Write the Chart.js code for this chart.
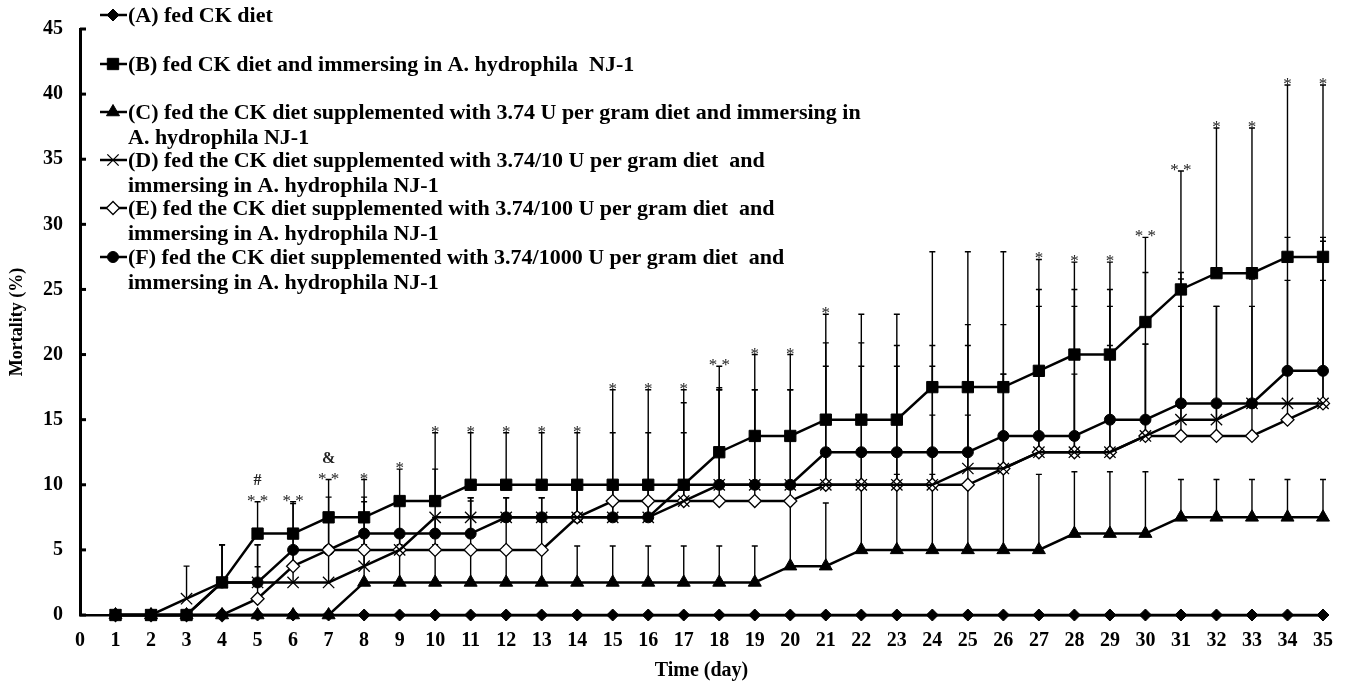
<!DOCTYPE html>
<html lang="en">
<head>
<meta charset="utf-8">
<title>Mortality (%)</title>
<script src="https://cdn.jsdelivr.net/npm/chart.js@4.4.0/dist/chart.umd.min.js"></script>
<style>
    body { margin: 0; background: #fff; }
    #wrap { width: 1347px; height: 686px; }
</style>
</head>
<body>

<div id="wrap"><canvas id="mortChart" width="1347" height="686"></canvas></div>

<script>
    // days of the trial
    var days = [1,2,3,4,5,6,7,8,9,10,11,12,13,14,15,16,17,18,19,20,21,22,23,24,25,26,27,28,29,30,31,32,33,34,35];

    // mortality (%) per group
    var mortA = [0,0,0,0,0,0,0,0,0,0,0,0,0,0,0,0,0,0,0,0,0,0,0,0,0,0,0,0,0,0,0,0,0,0,0];
    var mortB = [0,0,0,2.5,6.25,6.25,7.5,7.5,8.75,8.75,10,10,10,10,10,10,10,12.5,13.75,13.75,15,15,15,17.5,17.5,17.5,18.75,20,20,22.5,25,26.25,26.25,27.5,27.5];
    var mortC = [0,0,0,0,0,0,0,2.5,2.5,2.5,2.5,2.5,2.5,2.5,2.5,2.5,2.5,2.5,2.5,3.75,3.75,5,5,5,5,5,5,6.25,6.25,6.25,7.5,7.5,7.5,7.5,7.5];
    var mortD = [0,0,1.25,2.5,2.5,2.5,2.5,3.75,5,7.5,7.5,7.5,7.5,7.5,7.5,7.5,8.75,10,10,10,10,10,10,10,11.25,11.25,12.5,12.5,12.5,13.75,15,15,16.25,16.25,16.25];
    var mortE = [0,0,0,0,1.25,3.75,5,5,5,5,5,5,5,7.5,8.75,8.75,8.75,8.75,8.75,8.75,10,10,10,10,10,11.25,12.5,12.5,12.5,13.75,13.75,13.75,13.75,15,16.25];
    var mortF = [0,0,0,2.5,2.5,5,5,6.25,6.25,6.25,6.25,7.5,7.5,7.5,7.5,7.5,10,10,10,10,12.5,12.5,12.5,12.5,12.5,13.75,13.75,13.75,15,15,16.25,16.25,16.25,18.75,18.75];

    // standard deviations (upper bars only)
    var sdB = [0,0,0,2.9,2.45,2.45,2.9,2.9,2.45,5.25,4,4,4,4,7.3,7.3,7.3,6.6,6.25,6.25,8.1,8.1,8.1,10.4,10.4,10.4,8.55,7.1,7.1,6.5,9.1,11.15,11.15,13.2,13.2];
    var sdC = [0,0,0,0,0,0,0,2.9,2.9,2.9,2.8,2.8,2.8,2.8,2.8,2.8,2.8,2.8,2.8,5,4.85,5,5.8,5.8,5,6.25,5.8,4.75,4.75,4.75,2.9,2.9,2.9,2.9,2.9];
    var sdD = [0,0,2.5,2.9,2.9,2.5,2.5,2.5,1.25,3.7,1.5,1.5,1.5,2.5,2.5,2.5,5.25,7.45,7.3,7.3,9.1,9.1,9.1,9.1,11.05,7.25,11.2,11.2,11.2,7.05,10.8,8.7,9.55,9.45,9.45];
    var sdE = [0,0,0,0,2.45,2.5,2.5,3.7,1.25,2.5,3.75,2.5,2.5,2.5,5.25,5.25,1.25,8.55,1.25,1.25,2.5,2.5,2.5,5.35,5.35,7.25,1.25,6,8.2,7.05,9.95,2.5,2.5,1.25,12.45];
    var sdF = [0,0,0,2.9,2.9,3.55,4.05,2.8,2.5,1.25,2.75,1.5,1.5,2.5,2.5,2.5,6.3,7.3,7.3,7.3,8.4,8.4,8.2,8.2,8.2,8.55,11.25,11.25,10,11.3,10.05,7.45,7.45,10.25,10.25];

    // significance marks above the bars
    var starDays = [5,6,7,8,9,10,11,12,13,14,15,16,17,18,19,20,21,27,28,29,30,31,32,33,34,35];
    var starMarks = ["* *","* *","* *","*","*","*","*","*","*","*","*","*","*","* *","*","*","*","*","*","*","* *","* *","*","*","*","*"];
    var extraDays = [5,7];
    var extraMarks = ["#","&"];

    var yTicks = [0,5,10,15,20,25,30,35,40,45];

    var legendLines = [
        ["(A) fed CK diet"],
        ["(B) fed CK diet and immersing in A. hydrophila  NJ-1"],
        ["(C) fed the CK diet supplemented with 3.74 U per gram diet and immersing in", "A. hydrophila NJ-1"],
        ["(D) fed the CK diet supplemented with 3.74/10 U per gram diet  and", "immersing in A. hydrophila NJ-1"],
        ["(E) fed the CK diet supplemented with 3.74/100 U per gram diet  and", "immersing in A. hydrophila NJ-1"],
        ["(F) fed the CK diet supplemented with 3.74/1000 U per gram diet  and", "immersing in A. hydrophila NJ-1"]
    ];

    function pts(vals) {
        return days.map(function (d, i) { return { x: d, y: vals[i] }; });
    }

    function series(label, vals, sd, style, radius, fill, pbw) {
        return {
            label: label,
            data: pts(vals),
            sd: sd,
            borderColor: '#000',
            borderWidth: 2.5,
            pointStyle: style,
            pointRadius: radius,
            pointHoverRadius: radius,
            pointBackgroundColor: fill,
            pointBorderColor: '#000',
            pointBorderWidth: pbw,
            tension: 0,
            fill: false,
            clip: false
        };
    }

    var serif = "'Liberation Serif', 'Times New Roman', serif";

    // upper error bars, drawn under the lines
    var errorBars = {
        id: 'errorBars',
        beforeDatasetsDraw: function (chart) {
            var ctx = chart.ctx, xs = chart.scales.x, ys = chart.scales.y;
            ctx.save();
            ctx.strokeStyle = '#000';
            ctx.lineWidth = 1.4;
            chart.data.datasets.forEach(function (ds) {
                if (!ds.sd) return;
                ds.data.forEach(function (p, i) {
                    var s = ds.sd[i];
                    if (!s) return;
                    var x = xs.getPixelForValue(p.x);
                    var y0 = ys.getPixelForValue(p.y);
                    var y1 = ys.getPixelForValue(p.y + s);
                    ctx.beginPath();
                    ctx.moveTo(x, y0);
                    ctx.lineTo(x, y1);
                    ctx.moveTo(x - 3, y1);
                    ctx.lineTo(x + 3, y1);
                    ctx.stroke();
                });
            });
            ctx.restore();
        }
    };

    function topOfDay(chart, day) {
        var top = 0;
        var i = days.indexOf(day);
        chart.data.datasets.forEach(function (ds) {
            var v = ds.data[i].y + (ds.sd ? ds.sd[i] : 0);
            if (v > top) top = v;
        });
        return top;
    }

    var extras = {
        id: 'extras',
        afterDraw: function (chart) {
            var ctx = chart.ctx, xs = chart.scales.x, ys = chart.scales.y;
            var area = chart.chartArea;
            ctx.save();

            // inward y ticks
            ctx.strokeStyle = '#000';
            ctx.lineWidth = 3;
            yTicks.forEach(function (v) {
                var y = ys.getPixelForValue(v);
                ctx.beginPath();
                ctx.moveTo(area.left, y);
                ctx.lineTo(area.left + 6, y);
                ctx.stroke();
            });

            // stars and other marks
            ctx.fillStyle = '#222';
            ctx.textAlign = 'center';
            ctx.textBaseline = 'alphabetic';
            ctx.font = "17px " + serif;
            starDays.forEach(function (d, i) {
                var y = ys.getPixelForValue(topOfDay(chart, d));
                ctx.fillText(starMarks[i], xs.getPixelForValue(d), y + 4);
            });
            ctx.font = "bold 16px " + serif;
            extraDays.forEach(function (d, i) {
                var y = ys.getPixelForValue(topOfDay(chart, d));
                ctx.fillText(extraMarks[i], xs.getPixelForValue(d), y - 17);
            });

            // legend
            var rows = [[15], [64], [112, 137], [160, 185], [208, 233], [257, 282]];
            ctx.font = "bold 22px " + serif;
            ctx.textAlign = 'left';
            ctx.textBaseline = 'middle';
            chart.data.datasets.forEach(function (ds, k) {
                var y = rows[k][0];
                ctx.strokeStyle = '#000';
                ctx.lineWidth = 2.5;
                ctx.beginPath();
                ctx.moveTo(100, y);
                ctx.lineTo(127, y);
                ctx.stroke();
                ctx.fillStyle = ds.pointBackgroundColor;
                ctx.lineWidth = ds.pointBorderWidth;
                Chart.helpers.drawPoint(ctx, {
                    pointStyle: ds.pointStyle,
                    radius: ds.pointRadius,
                    rotation: 0,
                    borderWidth: ds.pointBorderWidth
                }, 113, y);
                ctx.fillStyle = '#000';
                legendLines[k].forEach(function (t, j) {
                    ctx.fillText(t, 128, rows[k][j] + 1);
                });
            });
            ctx.restore();
        }
    };

    var ctx = document.getElementById('mortChart').getContext('2d');
    var mortChart = new Chart(ctx, {
        type: 'line',
        data: {
            datasets: [
                series('A', mortA, null, 'rectRot', 6, '#000', 1),
                series('B', mortB, sdB, 'rect', 8, '#000', 1),
                series('C', mortC, sdC, 'triangle', 7.5, '#000', 1),
                series('D', mortD, sdD, 'crossRot', 8, '#000', 1.3),
                series('E', mortE, sdE, 'rectRot', 6.5, '#fff', 1.3),
                series('F', mortF, sdF, 'circle', 5.5, '#000', 1)
            ]
        },
        options: {
            responsive: false,
            animation: false,
            layout: {
                padding: { top: 22, right: 24, left: 0, bottom: 0 }
            },
            plugins: {
                legend: { display: false },
                tooltip: { enabled: false }
            },
            scales: {
                x: {
                    type: 'linear',
                    min: 0,
                    max: 35,
                    afterFit: function (scale) { scale.height = 71; },
                    ticks: {
                        stepSize: 1,
                        color: '#000',
                        padding: 14,
                        maxRotation: 0,
                        autoSkip: false,
                        font: { family: serif, size: 20, weight: 'bold' }
                    },
                    grid: { display: false, drawTicks: false },
                    border: { display: true, color: '#000', width: 2.5 },
                    title: {
                        display: true,
                        text: 'Time (day)',
                        color: '#000',
                        padding: { top: 0, bottom: 3 },
                        font: { family: serif, size: 20, weight: 'bold' }
                    }
                },
                y: {
                    min: 0,
                    max: 45,
                    afterFit: function (scale) { scale.width = 80; },
                    ticks: {
                        stepSize: 5,
                        color: '#000',
                        padding: 17,
                        font: { family: serif, size: 20, weight: 'bold' }
                    },
                    grid: { display: false, drawTicks: false },
                    border: { display: true, color: '#000', width: 3 },
                    title: {
                        display: true,
                        text: 'Mortality (%)',
                        color: '#000',
                        padding: { top: 7, bottom: 0 },
                        font: { family: serif, size: 18, weight: 'bold' }
                    }
                }
            }
        },
        plugins: [errorBars, extras]
    });
</script>

</body>
</html>
